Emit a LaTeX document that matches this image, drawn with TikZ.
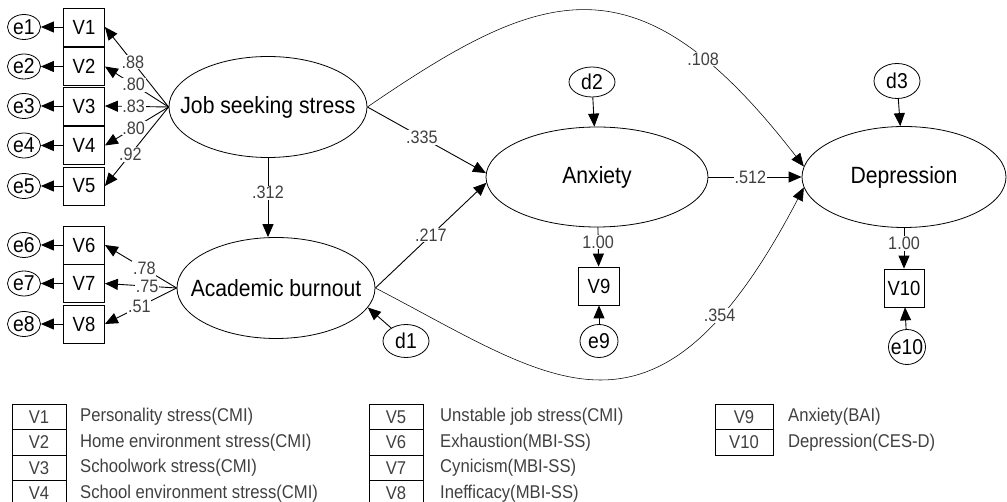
\documentclass[tikz,border=0pt]{standalone}
\usepackage{fontspec}
\setmainfont[FakeStretch=0.9]{Liberation Sans}
\usetikzlibrary{shapes.geometric,arrows.meta}
\colorlet{numc}{black!75}
\tikzset{
    lat/.style={ellipse,draw,line width=0.8pt,inner sep=0pt,inner xsep=-45pt,minimum width=198pt,minimum height=101pt,font=\fontsize{23.5}{23.5}\selectfont},
    obs/.style={draw,line width=0.8pt,inner sep=0pt,minimum width=41pt,minimum height=38pt,font=\fontsize{20.5}{20.5}\selectfont},
    err/.style={ellipse,draw,line width=0.8pt,inner sep=0pt,inner xsep=-8pt,minimum width=33pt,minimum height=25pt,font=\fontsize{21.5}{21.5}\selectfont},
    dist/.style={err,minimum width=46pt,minimum height=33pt},
    coef/.style={fill=white,inner sep=0.8pt,text=numc,font=\fontsize{18}{18}\selectfont},
    lnk/.style={-{Triangle[length=13pt,width=11pt]},line width=0.9pt},
    curv/.style={lnk,line width=0.55pt},
    legbox/.style={draw,line width=0.7pt,inner sep=0pt,minimum width=54pt,minimum height=25.5pt,text=numc,font=\fontsize{18.5}{18.5}\selectfont},
    legtxt/.style={anchor=west,inner sep=0pt,text=numc,font=\fontsize{18.5}{18.5}\selectfont}
}
\begin{document}
\begin{tikzpicture}[x=1pt,y=-1pt]
    \useasboundingbox (0,0) rectangle (1007,502);
    % latent variables
    \node [lat] (jss) at (268,107) {Job seeking stress};
    \node [lat] (ab) at (276,288) {Academic burnout};
    \node [lat,minimum width=222pt,minimum height=100pt] (anx) at (597,177) {Anxiety};
    \node [lat,minimum width=204pt] (dep) at (904,177) {Depression};
    \node [dist] (d1) at (406,341) {d1};
    \node [dist,minimum height=30pt] (d2) at (592,82) {d2};
    \node [dist,minimum height=35pt] (d3) at (897,81) {d3};
    % indicators
    \foreach \i/\y in {1/27,2/66.5,3/106,4/145.5,5/186,6/245,7/283.5,8/324} {
        \node [obs] (v\i) at (84,\y) {V\i};
        \node [err] (e\i) at (24,\y) {e\i};
        \draw [lnk] (v\i) -- (e\i);
    }
    \node [obs] (v9) at (599,286) {V9};
    \node [obs,minimum width=40pt] (v10) at (904,288) {V10};
    \node [err,minimum width=38pt,minimum height=33pt] (e9) at (599,341) {e9};
    \node [err,minimum width=37pt,minimum height=35pt] (e10) at (907,347) {e10};
    \foreach \i/\c/\p in {1/.88/0.56,2/.80/0.55,3/.83/0.55,4/.80/0.55,5/.92/0.6}
        \draw [lnk] (jss.west) -- node [coef,pos=\p] {\c} (v\i.east);
    \foreach \i/\c/\p in {6/.78/0.45,7/.75/0.41,8/.51/0.52}
        \draw [lnk] (ab.west) -- node [coef,pos=\p] {\c} (v\i.east);
    % structural paths
    \draw [lnk] (jss.south) -- node [coef,pos=0.44] {.312} (ab.north -| jss.south);
    \draw [lnk] (jss.east) -- node [coef,pos=0.46] {.335} (anx.178);
    \draw [lnk] (ab.east) -- node [coef,pos=0.5] {.217} (anx.183);
    \draw [lnk] (anx) -- node [coef,pos=0.45] {.512} (dep);
    \draw [curv] (jss.east) .. controls (544,-14) and (638,-48) .. node [coef,pos=0.78] {.108} (dep.174);
    \draw [curv] (ab.east) .. controls (553,380) and (656,471) .. node [coef,pos=0.8] {.354} (dep.186);
    \draw [lnk] (anx) -- node [coef,pos=0.38] {1.00} (v9);
    \draw [lnk] (dep) -- node [coef,pos=0.38] {1.00} (v10);
    \draw [lnk] (e9) -- (v9);
    \draw [lnk] (e10) -- (v10);
    \draw [lnk] (d1) -- (ab.-12);
    \draw [lnk] (d2) -- (anx);
    \draw [lnk] (d3) -- (dep);
    % legend
    \foreach \v/\t [count=\k from 0] in {V1/Personality stress(CMI),V2/Home environment stress(CMI),V3/Schoolwork stress(CMI),V4/School environment stress(CMI)} {
        \node [legbox] (lg\v) at (39,417+25.5*\k) {\v};
        \node [legtxt] (lt\v) at (80,417+25.5*\k) {\t};
    }
    \foreach \v/\t [count=\k from 0] in {V5/Unstable job stress(CMI),V6/Exhaustion(MBI-SS),V7/Cynicism(MBI-SS),V8/Inefficacy(MBI-SS)} {
        \node [legbox] (lg\v) at (396,417+25.5*\k) {\v};
        \node [legtxt] (lt\v) at (440,417+25.5*\k) {\t};
    }
    \foreach \v/\t [count=\k from 0] in {V9/Anxiety(BAI),V10/Depression(CES-D)} {
        \node [legbox,minimum width=58pt] (lg\v) at (744,417+25.5*\k) {\v};
        \node [legtxt] (lt\v) at (788,417+25.5*\k) {\t};
    }
\end{tikzpicture}
\end{document}
